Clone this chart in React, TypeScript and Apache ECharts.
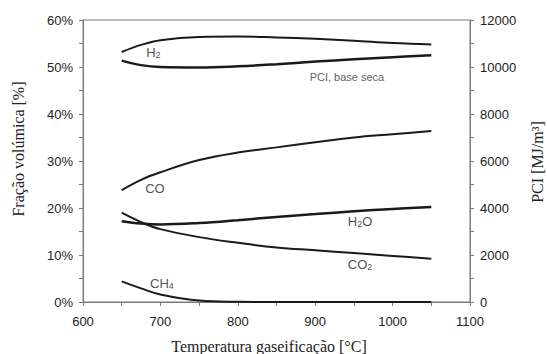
import React, { useEffect, useRef } from "react";
import * as echarts from "echarts";

const temps = [650, 675, 700, 750, 800, 850, 900, 950, 1000, 1050];
const h2 = [53.2, 54.7, 55.7, 56.4, 56.5, 56.3, 56.0, 55.6, 55.1, 54.8];
const pci = [10270, 10080, 10000, 9980, 10030, 10120, 10230, 10330, 10420, 10500];
const co = [23.8, 26.0, 27.6, 30.2, 31.8, 32.9, 34.0, 35.0, 35.7, 36.4];
const h2o = [17.2, 16.7, 16.5, 16.8, 17.4, 18.1, 18.7, 19.3, 19.8, 20.2];
const co2 = [19.0, 17.0, 15.5, 13.8, 12.6, 11.6, 11.0, 10.4, 9.8, 9.2];
const ch4 = [4.4, 2.9, 1.6, 0.3, 0.05, 0, 0, 0, 0, 0];

const annotNames = ["H{s|2}", "PCI, base seca", "CO", "H{s|2}O", "CO{s|2}", "CH{s|4}"];
const annotX = [691, 941, 693, 958, 958, 702];
const annotY = [53.1, 47.8, 24.2, 17.2, 8.0, 4.0];

const leftTicks = [0, 10, 20, 30, 40, 50, 60];
const rightTicks = [0, 2000, 4000, 6000, 8000, 10000, 12000];

const zip = (ys: number[]) => temps.map((t, i) => [t, ys[i]]);

export default function App() {
  const ref = useRef<HTMLDivElement>(null);
  useEffect(() => {
    if (!ref.current) return;
    const chart = echarts.init(ref.current, undefined, { renderer: "svg" });
    const lineColor = "#1a1a1a";
    const axisColor = "#7a7a7a";
    const labelStyle = { color: "#222", fontSize: 13, fontFamily: "Liberation Sans, Arial, sans-serif" };
    const mkLine = (name: string, data: number[], width: number, yAxisIndex = 0) => ({
      type: "line",
      name,
      data: zip(data),
      yAxisIndex,
      smooth: 0.4,
      showSymbol: false,
      symbol: "none",
      lineStyle: { color: lineColor, width },
      z: 3,
    });
    const titleFont = "16px 'Liberation Serif', 'Times New Roman', serif";
    chart.setOption({
      animation: false,
      grid: {
        left: 83,
        right: 77,
        top: 20,
        bottom: 52,
        show: true,
        borderColor: axisColor,
        borderWidth: 1,
      },
      xAxis: {
        type: "value",
        min: 600,
        max: 1100,
        interval: 100,
        axisLine: { show: true, lineStyle: { color: axisColor } },
        axisTick: { show: true, length: 4, lineStyle: { color: axisColor } },
        minorTick: { show: true, splitNumber: 2, length: 4, lineStyle: { color: axisColor } },
        splitLine: { show: false },
        axisLabel: { ...labelStyle, margin: 13, formatter: (v: number) => String(v) },
      },
      yAxis: [
        {
          type: "value",
          min: 0,
          max: 60,
          interval: 10,
          position: "left",
          axisLine: { show: true, lineStyle: { color: axisColor } },
          axisTick: { show: true, length: 4, lineStyle: { color: axisColor } },
          minorTick: { show: true, splitNumber: 2, length: 4, lineStyle: { color: axisColor } },
          splitLine: { show: false },
          axisLabel: { ...labelStyle, margin: 10, formatter: (v: number) => (leftTicks.includes(v) ? v + "%" : "") },
        },
        {
          type: "value",
          min: 0,
          max: 12000,
          interval: 2000,
          position: "right",
          axisLine: { show: true, lineStyle: { color: axisColor } },
          axisTick: { show: true, length: 4, lineStyle: { color: axisColor } },
          minorTick: { show: true, splitNumber: 2, length: 4, lineStyle: { color: axisColor } },
          splitLine: { show: false },
          axisLabel: { ...labelStyle, margin: 10, formatter: (v: number) => (rightTicks.includes(v) ? String(v) : "") },
        },
      ],
      graphic: [
        {
          type: "text",
          x: 18,
          y: 149,
          rotation: Math.PI / 2,
          style: {
            text: "Fração volúmica [%]",
            font: titleFont,
            fill: "#222",
            align: "center",
            verticalAlign: "middle",
          },
        },
        {
          type: "text",
          x: 537,
          y: 162,
          rotation: Math.PI / 2,
          style: {
            text: "PCI [MJ/m³]",
            font: titleFont,
            fill: "#222",
            align: "center",
            verticalAlign: "middle",
          },
        },
        {
          type: "text",
          x: 269,
          y: 346,
          style: {
            text: "Temperatura gaseificação [°C]",
            font: titleFont,
            fill: "#222",
            align: "center",
            verticalAlign: "middle",
          },
        },
      ],
      series: [
        mkLine("H2", h2, 2),
        mkLine("PCI", pci, 2.5, 1),
        mkLine("CO", co, 2),
        mkLine("H2O", h2o, 2.5),
        mkLine("CO2", co2, 2),
        mkLine("CH4", ch4, 2),
        {
          type: "scatter",
          symbolSize: 1,
          itemStyle: { color: "rgba(0,0,0,0)" },
          data: annotNames.map((n, i) => ({
            name: n,
            value: [annotX[i], annotY[i]],
            label: i === 1 ? { fontSize: 11, color: "#333" } : undefined,
          })),
          label: {
            show: true,
            position: "inside",
            formatter: (p: any) => p.name,
            fontFamily: "Liberation Sans, Arial, sans-serif",
            fontSize: 13,
            color: "#222",
            rich: {
              s: {
                fontSize: 9,
                verticalAlign: "bottom",
                padding: [6, 0, 0, 0],
                fontFamily: "Liberation Sans, Arial, sans-serif",
                color: "#222",
              },
            },
          },
          z: 5,
        },
      ],
    });
    return () => chart.dispose();
  }, []);
  return <div ref={ref} style={{ width: 547, height: 354, position: "absolute", left: 0, top: 0 }} />;
}
